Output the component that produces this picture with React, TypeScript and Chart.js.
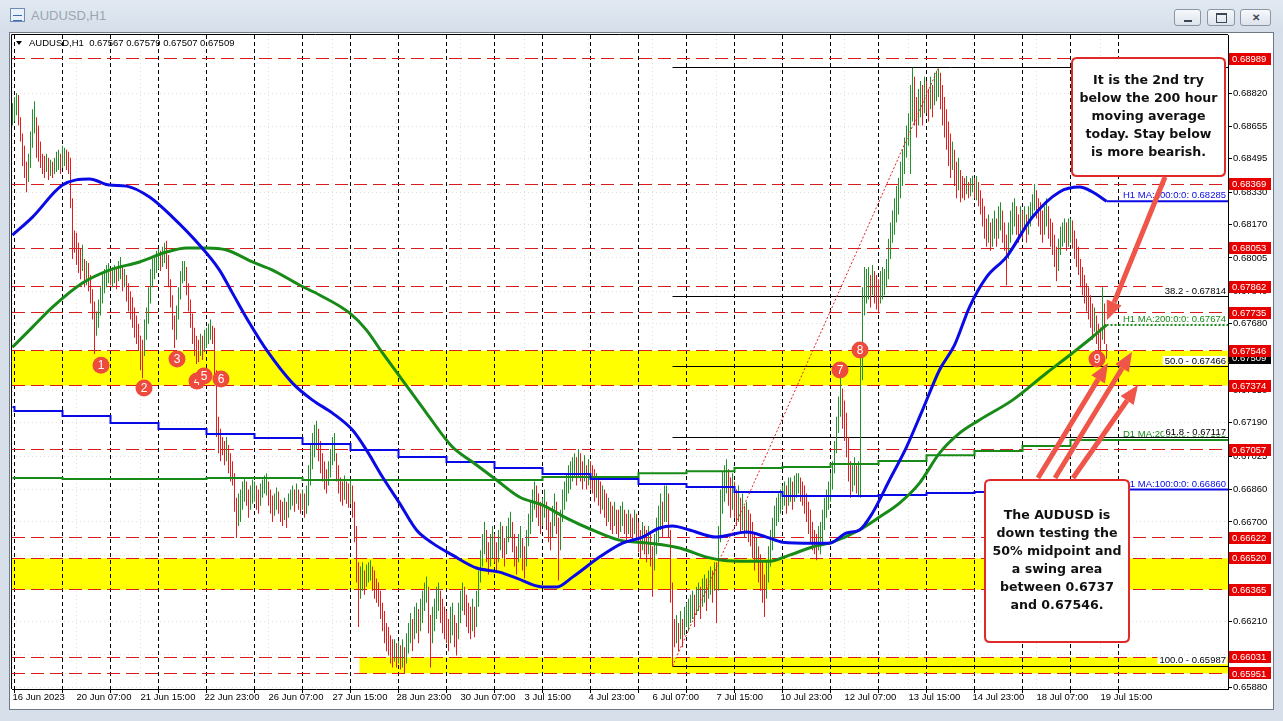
import React, { useEffect, useRef } from "react";
import { Chart, registerables } from "chart.js";

Chart.register(...registerables);

// ------------------------------------------------------------------ data
const windowTitle = "AUDUSD,H1";
const lastBarOHLC = [0.67567, 0.67579, 0.67507, 0.67509];
const currentPrice = 0.67509;

// H1 candles (bar 0 = 16 Jun 23:00), prices in pips (x 0.0001)
const candleLows = [
  6866,
  6868, 6871, 6866, 6858, 6846, 6840, 6833, 6838, 6845, 6855, 6862, 6850, 6848, 6845, 6842, 6840, 6843, 6839, 6841, 6840, 6842, 6843, 6844, 6842,
  6845, 6846, 6844, 6842, 6825, 6800, 6803, 6797, 6793, 6790, 6794, 6786, 6787, 6784, 6778, 6770, 6753, 6762, 6766, 6772, 6778, 6783, 6786, 6788,
  6787, 6786, 6788, 6785, 6789, 6790, 6784, 6786, 6779, 6774, 6770, 6766, 6761, 6758, 6755, 6745, 6741, 6752, 6760, 6768, 6778, 6786, 6790, 6793,
  6795, 6794, 6796, 6798, 6795, 6786, 6776, 6765, 6756, 6760, 6770, 6780, 6788, 6789, 6782, 6774, 6766, 6758, 6752, 6748, 6749, 6752, 6750, 6754,
  6756, 6758, 6760, 6758, 6740, 6712, 6704, 6700, 6703, 6698, 6700, 6694, 6690, 6688, 6675, 6662, 6668, 6670, 6676, 6680, 6678, 6672, 6676, 6679,
  6680, 6676, 6674, 6678, 6682, 6684, 6683, 6678, 6674, 6670, 6673, 6676, 6674, 6670, 6668, 6671, 6667, 6672, 6676, 6678, 6675, 6679, 6676, 6674,
  6676, 6672, 6674, 6678, 6688, 6696, 6702, 6706, 6700, 6694, 6690, 6686, 6684, 6688, 6692, 6698, 6700, 6690, 6684, 6680, 6678, 6681, 6679, 6677,
  6679, 6672, 6660, 6640, 6618, 6632, 6636, 6634, 6638, 6640, 6641, 6636, 6632, 6630, 6628, 6622, 6616, 6610, 6606, 6604, 6600, 6598, 6601, 6598,
  6600, 6597, 6598, 6595, 6600, 6605, 6610, 6606, 6612, 6615, 6610, 6616, 6620, 6626, 6630, 6615, 6598, 6610, 6616, 6622, 6626, 6620, 6615, 6612,
  6610, 6606, 6610, 6614, 6608, 6604, 6612, 6620, 6626, 6624, 6618, 6615, 6612, 6616, 6613, 6618, 6628, 6640, 6648, 6654, 6650, 6644, 6648, 6652,
  6650, 6646, 6650, 6656, 6652, 6648, 6654, 6660, 6662, 6655, 6648, 6644, 6650, 6652, 6646, 6642, 6648, 6658, 6664, 6670, 6676, 6672, 6668, 6664,
  6668, 6672, 6666, 6660, 6656, 6662, 6668, 6664, 6641, 6656, 6670, 6676, 6680, 6684, 6686, 6690, 6692, 6688, 6692, 6690, 6686, 6690, 6686, 6688,
  6686, 6684, 6680, 6682, 6678, 6674, 6676, 6672, 6668, 6670, 6666, 6664, 6668, 6664, 6662, 6665, 6668, 6664, 6661, 6664, 6662, 6660, 6664, 6662,
  6655, 6652, 6656, 6654, 6650, 6654, 6648, 6633, 6646, 6654, 6660, 6666, 6662, 6670, 6670, 6662, 6630, 6598.7, 6608, 6610, 6606, 6612, 6608, 6614,
  6618, 6616, 6620, 6622, 6618, 6624, 6626, 6622, 6628, 6630, 6626, 6632, 6634, 6630, 6636, 6620, 6636, 6660, 6674, 6680, 6684, 6678, 6672, 6676,
  6672, 6668, 6670, 6664, 6666, 6662, 6664, 6660, 6658, 6652, 6646, 6650, 6640, 6636, 6630, 6623, 6632, 6640, 6648, 6656, 6662, 6668, 6670, 6674,
  6676, 6678, 6674, 6678, 6680, 6676, 6680, 6682, 6684, 6680, 6678, 6674, 6670, 6664, 6660, 6656, 6654, 6651, 6656, 6654, 6660, 6666, 6672, 6676,
  6680, 6686, 6694, 6704, 6714, 6722, 6716, 6710, 6702, 6690, 6682, 6685, 6688, 6684, 6683, 6682, 6740, 6772, 6778, 6780, 6776, 6782, 6778, 6775,
  6773, 6778, 6780, 6782, 6786, 6790, 6800, 6808, 6812, 6818, 6822, 6830, 6836, 6842, 6850, 6856, 6842, 6868, 6866, 6860, 6866, 6870, 6866, 6872,
  6872, 6868, 6874, 6870, 6876, 6878, 6880, 6874, 6866, 6860, 6854, 6846, 6840, 6844, 6836, 6830, 6834, 6828, 6830, 6829, 6832, 6830, 6831, 6833,
  6830, 6829, 6826, 6822, 6816, 6810, 6806, 6808, 6804, 6806, 6810, 6806, 6810, 6814, 6808, 6804, 6787, 6800, 6808, 6812, 6816, 6812, 6808, 6812,
  6810, 6814, 6808, 6812, 6816, 6820, 6824, 6820, 6816, 6812, 6808, 6812, 6816, 6810, 6806, 6802, 6796, 6789, 6794, 6802, 6806, 6808, 6804, 6806,
  6808, 6805, 6800, 6796, 6792, 6786, 6782, 6778, 6774, 6770, 6766, 6760, 6764, 6758, 6754, 6752, 6760, 6758, 6750.7,
];
const candleHighs = [
  6877,
  6880, 6882, 6881, 6870, 6862, 6856, 6848, 6852, 6863, 6874, 6878, 6870, 6866, 6858, 6852, 6851, 6852, 6850, 6849, 6848, 6850, 6853, 6854, 6852,
  6856, 6855, 6854, 6853, 6850, 6830, 6814, 6813, 6808, 6805, 6807, 6800, 6799, 6798, 6792, 6785, 6779, 6774, 6780, 6786, 6793, 6795, 6797, 6798,
  6795, 6796, 6797, 6796, 6799, 6801, 6797, 6795, 6792, 6788, 6784, 6781, 6776, 6772, 6768, 6762, 6760, 6770, 6776, 6786, 6795, 6800, 6802, 6804,
  6805, 6804, 6806, 6808, 6809, 6802, 6790, 6782, 6772, 6777, 6786, 6794, 6799, 6799, 6796, 6788, 6780, 6773, 6766, 6762, 6760, 6763, 6762, 6765,
  6766, 6768, 6770, 6767, 6766, 6745, 6722, 6716, 6712, 6710, 6712, 6708, 6704, 6700, 6694, 6682, 6684, 6686, 6690, 6692, 6690, 6686, 6688, 6691,
  6690, 6688, 6686, 6689, 6691, 6693, 6694, 6690, 6686, 6683, 6684, 6687, 6685, 6681, 6680, 6682, 6680, 6684, 6686, 6688, 6686, 6689, 6686, 6684,
  6686, 6684, 6688, 6698, 6708, 6714, 6718, 6720, 6716, 6710, 6704, 6700, 6696, 6700, 6706, 6712, 6714, 6704, 6698, 6692, 6690, 6693, 6690, 6689,
  6691, 6688, 6680, 6668, 6650, 6648, 6650, 6646, 6649, 6650, 6651, 6648, 6646, 6642, 6640, 6636, 6630, 6626, 6620, 6618, 6614, 6612, 6612, 6610,
  6611, 6609, 6612, 6608, 6615, 6620, 6625, 6622, 6628, 6630, 6627, 6632, 6636, 6640, 6643, 6638, 6624, 6628, 6632, 6638, 6640, 6636, 6632, 6628,
  6626, 6622, 6628, 6630, 6624, 6620, 6630, 6636, 6640, 6638, 6634, 6630, 6628, 6632, 6628, 6636, 6646, 6656, 6664, 6670, 6666, 6660, 6664, 6668,
  6664, 6660, 6666, 6670, 6668, 6662, 6668, 6672, 6675, 6670, 6664, 6658, 6664, 6668, 6662, 6658, 6666, 6674, 6680, 6686, 6690, 6688, 6684, 6680,
  6682, 6686, 6680, 6676, 6670, 6678, 6684, 6680, 6672, 6676, 6686, 6690, 6694, 6698, 6700, 6702, 6704, 6702, 6706, 6704, 6700, 6703, 6698, 6701,
  6700, 6698, 6696, 6694, 6692, 6690, 6688, 6686, 6684, 6682, 6680, 6678, 6680, 6676, 6676, 6678, 6680, 6676, 6674, 6676, 6674, 6672, 6676, 6674,
  6670, 6666, 6670, 6668, 6666, 6668, 6664, 6658, 6664, 6672, 6678, 6684, 6680, 6688, 6688, 6684, 6666, 6640, 6622, 6624, 6620, 6626, 6622, 6628,
  6630, 6632, 6634, 6636, 6634, 6638, 6640, 6638, 6642, 6644, 6642, 6646, 6648, 6646, 6650, 6650, 6668, 6686, 6695, 6698, 6701, 6696, 6692, 6694,
  6690, 6686, 6688, 6682, 6684, 6678, 6680, 6676, 6674, 6670, 6664, 6662, 6658, 6654, 6650, 6644, 6650, 6658, 6666, 6672, 6678, 6682, 6684, 6686,
  6688, 6690, 6688, 6692, 6692, 6690, 6693, 6694, 6694, 6692, 6690, 6688, 6684, 6680, 6676, 6670, 6666, 6664, 6668, 6670, 6676, 6682, 6686, 6690,
  6694, 6700, 6710, 6722, 6732, 6742, 6736, 6730, 6724, 6712, 6700, 6698, 6702, 6698, 6700, 6755, 6786, 6796, 6795, 6796, 6792, 6797, 6794, 6792,
  6790, 6794, 6796, 6795, 6800, 6810, 6818, 6824, 6830, 6836, 6840, 6848, 6854, 6860, 6866, 6872, 6886, 6894.5, 6890, 6880, 6884, 6888, 6886, 6890,
  6888, 6884, 6890, 6886, 6892, 6893, 6894, 6892, 6886, 6880, 6874, 6868, 6862, 6858, 6854, 6848, 6850, 6844, 6841, 6840, 6841, 6838, 6840, 6841,
  6840, 6841, 6838, 6834, 6830, 6826, 6820, 6822, 6818, 6820, 6824, 6820, 6826, 6828, 6824, 6818, 6812, 6818, 6824, 6828, 6830, 6826, 6822, 6826,
  6824, 6826, 6822, 6826, 6828, 6832, 6837, 6834, 6830, 6828, 6824, 6826, 6830, 6826, 6820, 6818, 6812, 6806, 6810, 6816, 6818, 6820, 6818, 6820,
  6820, 6819, 6814, 6810, 6806, 6800, 6796, 6792, 6788, 6786, 6782, 6778, 6776, 6772, 6768, 6766, 6786, 6778, 6757.9,
];

// first bar of each trading day (period separators)
const sessionStartBars = [1, 25, 49, 73, 97, 121, 145, 169, 193, 217, 241, 265, 289, 313, 337, 361, 385, 409, 433, 457, 481, 505, 529, 553];

const timeTickBars = [0, 32, 64, 96, 128, 160, 192, 224, 256, 288, 320, 352, 384, 416, 448, 480, 512, 544];
const timeTickLabels = [
  "16 Jun 2023", "20 Jun 07:00", "21 Jun 15:00", "22 Jun 23:00", "26 Jun 07:00", "27 Jun 15:00",
  "28 Jun 23:00", "30 Jun 07:00", "3 Jul 15:00", "4 Jul 23:00", "6 Jul 07:00", "7 Jul 15:00",
  "10 Jul 23:00", "12 Jul 07:00", "13 Jul 15:00", "14 Jul 23:00", "18 Jul 07:00", "19 Jul 15:00",
];

const priceTicks = [0.6882, 0.68655, 0.68495, 0.6833, 0.6817, 0.68005, 0.6784, 0.6768, 0.6735, 0.6719, 0.67025, 0.6686, 0.667, 0.66535, 0.6637, 0.6621, 0.66045, 0.6588];

// H1 moving averages, [bar, pips]
const h1Ma100 = [
  [0, 6811.8], [10, 6820.7], [25, 6836.5], [38.5, 6839.5], [48.5, 6836.5], [57, 6836.0], [68.5, 6830.6], [80, 6820.7],
  [93.5, 6806.9], [103.5, 6794.5], [110, 6783.1], [118.5, 6768.3], [127, 6755.0], [140, 6738.6], [150, 6730.2], [160, 6723.8],
  [170, 6715.4], [177, 6705.5], [185, 6692.2], [193.5, 6679.3], [202, 6666.0], [210, 6659.5], [220, 6653.6], [232, 6647.2],
  [243.5, 6645.2], [252, 6642.2], [265, 6637.8], [272, 6637.8], [280, 6642.7], [293.5, 6652.6], [305, 6659.5], [315, 6662.5],
  [323.5, 6667.0], [330, 6668.0], [338.5, 6666.0], [352, 6662.5], [367, 6665.0], [377, 6662.5], [385, 6660.0], [400, 6659.5],
  [408.5, 6659.5], [417, 6664.5], [423.5, 6666.0], [430, 6674.4], [438.5, 6690.7], [447, 6707.0], [455, 6725.3], [463.5, 6745.1],
  [471, 6757.4], [478.5, 6776.2], [487, 6791.0], [497, 6801.0], [510, 6820.7], [523.5, 6833.1], [533.5, 6835.5], [540, 6833.1],
  [547, 6828.5],
];
const h1Ma200 = [
  [0, 6756.4], [10, 6766.3], [20, 6776.2], [35, 6788.1], [48.5, 6794.5], [63.5, 6798.5], [77, 6803.4], [87, 6805.4],
  [97, 6805.4], [107, 6804.4], [120, 6798.5], [130, 6794.5], [143.5, 6787.1], [153.5, 6782.2], [168.5, 6773.3], [177, 6764.8],
  [185, 6753.5], [193.5, 6742.1], [207, 6723.8], [220, 6707.0], [230, 6699.6], [242, 6690.7], [253.5, 6682.3], [265, 6678.3],
  [277, 6671.9], [290, 6666.0], [303.5, 6661.0], [318.5, 6659.5], [333.5, 6657.1], [347, 6652.6], [355, 6651.1], [367, 6650.6],
  [378.5, 6650.6], [388.5, 6653.6], [400, 6657.6], [410, 6660.0], [423.5, 6666.0], [433.5, 6672.4], [443.5, 6679.3], [453.5, 6689.2],
  [463.5, 6704.0], [473.5, 6713.9], [483.5, 6720.4], [500, 6730.2], [517, 6743.6], [530, 6753.5], [540, 6761.4], [547, 6767.4],
];
const h1Ma100Last = 0.68285;
const h1Ma200Last = 0.67674;

// D1 moving averages: value for bar 0 then one per trading day (pips)
const d1Ma100Daily = [6726.8, 6724.8, 6722.3, 6718.9, 6715.9, 6713.4, 6711.5, 6708.5, 6705.5, 6702.1, 6699.6, 6696.6, 6693.7, 6691.2, 6688.7, 6687.2, 6684.8, 6682.8, 6682.8, 6683.3, 6684.3, 6684.8, 6685.7, 6686.0];
const d1Ma200Daily = [6691.7, 6691.7, 6691.2, 6691.2, 6691.2, 6691.7, 6691.7, 6690.7, 6690.7, 6690.7, 6690.7, 6690.7, 6692.2, 6692.2, 6694.1, 6695.1, 6696.6, 6697.1, 6698.6, 6700.1, 6703.0, 6705.0, 6707.5, 6710.5];
const d1Ma100Last = 0.6686;
const d1Ma200Last = 0.67105;

// horizontal levels (red dashed) and yellow zones
const levelLines = [0.68989, 0.68369, 0.68053, 0.67862, 0.67735, 0.67546, 0.67374, 0.67057, 0.66622, 0.6652, 0.66365, 0.66031, 0.65951];
const zoneLows = [0.67374, 0.66365, 0.65951];
const zoneHighs = [0.67546, 0.6652, 0.66031];
const zoneStartBars = [-0.25, -0.25, 173.5];

// Fibonacci retracement
const fibRatios = ["0.0", "38.2", "50.0", "61.8", "100.0"];
const fibPrices = [0.68945, 0.67814, 0.67466, 0.67117, 0.65987];
const fibStartBar = 330;
const fibTrendBars = [330, 463];
const fibTrendPrices = [0.65987, 0.68945];

// numbered markers
const markerTexts = ["1", "2", "3", "4", "5", "6", "7", "8", "9"];
const markerBars = [44.25, 65.75, 82.25, 92.25, 95.75, 104.25, 413.75, 423.75, 542.25];
const markerPips = [6747.5, 6736.2, 6750.5, 6739.6, 6742.1, 6740.6, 6745.1, 6755.0, 6750.5];

// text notes (bar range, price range) and arrows [fromBar, fromPips, toBar, toPips]
const noteLines = [
  ["It is the 2nd try", "below the 200 hour", "moving average", "today. Stay below", "is more bearish."],
  ["The AUDUSD is", "down testing the", "50% midpoint and", "a swing area", "between 0.6737", "and 0.67546."],
];
const noteBars = [[529.75, 606.25], [486.25, 558.25]];
const notePrices = [[0.68993, 0.6841], [0.66907, 0.66106]];
const arrowSegments = [
  [576.25, 6840.5, 547.25, 6769.8],
  [512.75, 6691.7, 547.75, 6748.5],
  [521.25, 6691.7, 559.75, 6754.0],
  [530.25, 6691.7, 562.75, 6737.7],
];

// ------------------------------------------------------------------ styles
const GREEN = "#23902a";
const RED = "#e21d1d";
const LEVEL_RED = "#d81c1c";
const LABEL_RED = "#e60000";
const MA_BLUE = "#0a0ae6";
const MA_GREEN = "#178a17";
const ARROW = "#ef5548";
const GRID = "#e6dede";
const FONT = '"Liberation Sans", Arial, sans-serif';

const pip = (v: number) => v / 10000;

function drawArrow(ctx: CanvasRenderingContext2D, x0: number, y0: number, x1: number, y1: number) {
  const ang = Math.atan2(y1 - y0, x1 - x0);
  const hl = 19, hw = 8;
  const bx = x1 - hl * Math.cos(ang), by = y1 - hl * Math.sin(ang);
  ctx.beginPath();
  ctx.moveTo(x0, y0);
  ctx.lineTo(bx, by);
  ctx.stroke();
  ctx.beginPath();
  ctx.moveTo(x1, y1);
  ctx.lineTo(bx + hw * Math.sin(ang), by - hw * Math.cos(ang));
  ctx.lineTo(bx - hw * Math.sin(ang), by + hw * Math.cos(ang));
  ctx.closePath();
  ctx.fill();
}

function roundRect(ctx: CanvasRenderingContext2D, x: number, y: number, w: number, h: number, r: number) {
  ctx.beginPath();
  ctx.moveTo(x + r, y);
  ctx.lineTo(x + w - r, y);
  ctx.quadraticCurveTo(x + w, y, x + w, y + r);
  ctx.lineTo(x + w, y + h - r);
  ctx.quadraticCurveTo(x + w, y + h, x + w - r, y + h);
  ctx.lineTo(x + r, y + h);
  ctx.quadraticCurveTo(x, y + h, x, y + h - r);
  ctx.lineTo(x, y + r);
  ctx.quadraticCurveTo(x, y, x + r, y);
  ctx.closePath();
}

const overlayPlugin = {
  id: "mt4Overlay",
  beforeDatasetsDraw(chart: any) {
    const { ctx, chartArea: a } = chart;
    const xs = chart.scales.x, ys = chart.scales.y;
    ctx.save();
    ctx.beginPath();
    ctx.rect(a.left, a.top, a.right - a.left, a.bottom - a.top);
    ctx.clip();
    // yellow zones
    ctx.fillStyle = "#ffff00";
    zoneLows.forEach((lo, i) => {
      const x0 = Math.max(a.left, xs.getPixelForValue(zoneStartBars[i]));
      const yt = ys.getPixelForValue(zoneHighs[i]);
      const yb = ys.getPixelForValue(lo);
      ctx.fillRect(x0, yt, a.right - x0, yb - yt);
    });
    // period separators
    ctx.lineWidth = 1;
    ctx.strokeStyle = "#000";
    ctx.setLineDash([4, 3]);
    ctx.beginPath();
    sessionStartBars.forEach((b) => {
      const px = Math.floor(xs.getPixelForValue(b)) + 0.5;
      ctx.moveTo(px, a.top);
      ctx.lineTo(px, a.bottom);
    });
    ctx.stroke();
    // red levels
    ctx.strokeStyle = LEVEL_RED;
    ctx.setLineDash([13, 6]);
    ctx.beginPath();
    levelLines.forEach((v) => {
      const py = Math.floor(ys.getPixelForValue(v)) + 0.5;
      ctx.moveTo(a.left, py);
      ctx.lineTo(a.right, py);
    });
    ctx.stroke();
    // fib levels
    ctx.setLineDash([]);
    ctx.strokeStyle = "#000";
    ctx.beginPath();
    const fx = xs.getPixelForValue(fibStartBar);
    fibPrices.forEach((v) => {
      const py = Math.floor(ys.getPixelForValue(v)) + 0.5;
      ctx.moveTo(fx, py);
      ctx.lineTo(a.right, py);
    });
    ctx.stroke();
    ctx.restore();
  },
  afterDatasetsDraw(chart: any) {
    const { ctx, chartArea: a } = chart;
    const xs = chart.scales.x, ys = chart.scales.y;
    ctx.save();
    // indicator labels
    ctx.font = `9.5px ${FONT}`;
    ctx.textAlign = "right";
    ctx.textBaseline = "alphabetic";
    const maTexts = [
      `H1 MA:100:0:0: ${h1Ma100Last.toFixed(5)}`,
      `H1 MA:200:0:0: ${h1Ma200Last.toFixed(5)}`,
      `D1 MA:200:0:0: ${d1Ma200Last.toFixed(5)}`,
      `D1 MA:100:0:0: ${d1Ma100Last.toFixed(5)}`,
    ];
    const maVals = [h1Ma100Last, h1Ma200Last, d1Ma200Last, d1Ma100Last];
    const maCols = [MA_BLUE, MA_GREEN, MA_GREEN, MA_BLUE];
    maTexts.forEach((t, i) => {
      ctx.fillStyle = maCols[i];
      ctx.fillText(t, a.right - 2, ys.getPixelForValue(maVals[i]) - 3);
    });
    // fib labels
    fibRatios.forEach((r, i) => {
      const t = `${r} - ${fibPrices[i].toFixed(5)}`;
      const py = ys.getPixelForValue(fibPrices[i]);
      const w = ctx.measureText(t).width;
      ctx.fillStyle = "#fff";
      ctx.fillRect(a.right - 4 - w, py - 11, w + 3, 9);
      ctx.fillStyle = "#000";
      ctx.fillText(t, a.right - 2, py - 3);
    });
    // markers
    markerTexts.forEach((t, i) => {
      const px = xs.getPixelForValue(markerBars[i]);
      const py = ys.getPixelForValue(pip(markerPips[i]));
      ctx.beginPath();
      ctx.arc(px, py, 8.5, 0, Math.PI * 2);
      ctx.fillStyle = "#ee4a3d";
      ctx.fill();
      ctx.fillStyle = "#fff";
      ctx.font = `12px ${FONT}`;
      ctx.textAlign = "center";
      ctx.textBaseline = "middle";
      ctx.fillText(t, px, py + 0.5);
    });
    // notes
    noteLines.forEach((lines, i) => {
      const l = xs.getPixelForValue(noteBars[i][0]);
      const r = xs.getPixelForValue(noteBars[i][1]);
      const t = ys.getPixelForValue(notePrices[i][0]);
      const b = ys.getPixelForValue(notePrices[i][1]);
      roundRect(ctx, l, t, r - l, b - t, 5);
      ctx.fillStyle = "#fff";
      ctx.fill();
      ctx.lineWidth = 2;
      ctx.strokeStyle = "#e02a2a";
      ctx.stroke();
      ctx.fillStyle = "#111";
      ctx.font = `bold 12.6px "DejaVu Sans", Verdana, sans-serif`;
      ctx.textAlign = "center";
      ctx.textBaseline = "middle";
      const cy = (t + b) / 2, lh = 18;
      lines.forEach((s, k) => {
        ctx.fillText(s, (l + r) / 2, cy + (k - (lines.length - 1) / 2) * lh);
      });
    });
    // arrows
    ctx.strokeStyle = ARROW;
    ctx.fillStyle = ARROW;
    ctx.lineWidth = 5;
    ctx.lineCap = "butt";
    arrowSegments.forEach(([b0, p0, b1, p1]) => {
      drawArrow(ctx, xs.getPixelForValue(b0), ys.getPixelForValue(pip(p0)), xs.getPixelForValue(b1), ys.getPixelForValue(pip(p1)));
    });
    // header
    ctx.fillStyle = "#000";
    ctx.beginPath();
    ctx.moveTo(a.left + 4, a.top + 6);
    ctx.lineTo(a.left + 10, a.top + 6);
    ctx.lineTo(a.left + 7, a.top + 10);
    ctx.closePath();
    ctx.fill();
    ctx.font = `9.5px ${FONT}`;
    ctx.textAlign = "left";
    ctx.textBaseline = "middle";
    ctx.fillText(`${windowTitle}  ${lastBarOHLC.map((v) => v.toFixed(5)).join(" ")}`, a.left + 17, a.top + 8.5);
    ctx.restore();
  },
  afterDraw(chart: any) {
    const { ctx, chartArea: a } = chart;
    const xs = chart.scales.x, ys = chart.scales.y;
    ctx.save();
    ctx.strokeStyle = "#000";
    ctx.lineWidth = 1;
    ctx.beginPath();
    ctx.moveTo(a.left - 0.5, a.bottom);
    ctx.lineTo(a.left - 0.5, a.top - 0.5);
    ctx.lineTo(a.right, a.top - 0.5);
    // separator ticks under the time axis
    sessionStartBars.forEach((b) => {
      const px = Math.floor(xs.getPixelForValue(b)) + 0.5;
      ctx.moveTo(px, a.bottom);
      ctx.lineTo(px, a.bottom + 4);
    });
    ctx.stroke();
    // price labels
    ctx.font = `9.5px ${FONT}`;
    ctx.textAlign = "left";
    ctx.textBaseline = "middle";
    const drawTag = (v: number, bg: string) => {
      const py = ys.getPixelForValue(v);
      ctx.fillStyle = bg;
      ctx.fillRect(a.right + 1, Math.round(py) - 6, 42, 12);
      ctx.fillStyle = "#fff";
      ctx.fillText(v.toFixed(5), a.right + 4, py + 0.5);
    };
    drawTag(currentPrice, "#000");
    levelLines.forEach((v) => drawTag(v, LABEL_RED));
    ctx.restore();
  },
};

export default function App() {
  const ref = useRef<HTMLCanvasElement>(null);

  useEffect(() => {
    const canvas = ref.current;
    if (!canvas) return;

    const candleData = candleLows.map((lo, i) => ({ x: i, y: [pip(lo), pip(candleHighs[i])] }));
    const candleColors = candleLows.map((lo, i) => {
      const mid = lo + candleHighs[i];
      const prev = i > 0 ? candleLows[i - 1] + candleHighs[i - 1] : mid;
      return mid >= prev ? GREEN : RED;
    });

    const stepData = (vals: number[]) => {
      const pts = [{ x: 0, y: pip(vals[0]) }];
      for (let k = 1; k < vals.length; k++) pts.push({ x: sessionStartBars[k - 1], y: pip(vals[k]) });
      pts.push({ x: 607.75, y: pip(vals[vals.length - 1]) });
      return pts;
    };

    const lineBase = { type: "line", pointRadius: 0, fill: false, spanGaps: true };

    const chart = new Chart(canvas, {
      type: "bar",
      data: {
        datasets: [
          {
            ...lineBase,
            label: "fib trend",
            data: fibTrendBars.map((b, i) => ({ x: b, y: fibTrendPrices[i] })),
            borderColor: "#e02020",
            borderWidth: 1,
            borderDash: [2, 2],
            order: 1,
          },
          {
            ...lineBase,
            label: "H1 MA 100",
            data: h1Ma100.map(([b, v]) => ({ x: b, y: pip(v) })),
            borderColor: MA_BLUE,
            borderWidth: 3,
            cubicInterpolationMode: "monotone",
            order: 2,
          },
          {
            ...lineBase,
            label: "H1 MA 100 ext",
            data: [{ x: 547, y: h1Ma100Last }, { x: 607.75, y: h1Ma100Last }],
            borderColor: MA_BLUE,
            borderWidth: 2,
            order: 2,
          },
          {
            ...lineBase,
            label: "H1 MA 200",
            data: h1Ma200.map(([b, v]) => ({ x: b, y: pip(v) })),
            borderColor: MA_GREEN,
            borderWidth: 3,
            cubicInterpolationMode: "monotone",
            order: 3,
          },
          {
            ...lineBase,
            label: "H1 MA 200 ext",
            data: [{ x: 547, y: h1Ma200Last }, { x: 607.75, y: h1Ma200Last }],
            borderColor: MA_GREEN,
            borderWidth: 2,
            borderDash: [2, 2],
            order: 3,
          },
          {
            ...lineBase,
            label: "D1 MA 100",
            data: stepData(d1Ma100Daily),
            borderColor: MA_BLUE,
            borderWidth: 2,
            stepped: true,
            order: 4,
          },
          {
            ...lineBase,
            label: "D1 MA 200",
            data: stepData(d1Ma200Daily),
            borderColor: MA_GREEN,
            borderWidth: 2,
            stepped: true,
            order: 4,
          },
          {
            type: "bar",
            label: "AUDUSD",
            data: candleData,
            backgroundColor: candleColors,
            borderWidth: 0,
            barThickness: 1,
            inflateAmount: 0,
            borderSkipped: false,
            order: 6,
          },
        ],
      } as any,
      options: {
        animation: false,
        responsive: false,
        devicePixelRatio: 1,
        events: [],
        layout: { padding: { left: 2, top: 2, right: 0, bottom: 0 } },
        plugins: { legend: { display: false }, tooltip: { enabled: false } },
        scales: {
          x: {
            type: "linear",
            min: -0.25,
            max: 607.75,
            offset: false,
            position: "bottom",
            afterBuildTicks: (s: any) => {
              s.ticks = timeTickBars.map((v) => ({ value: v }));
            },
            afterFit: (s: any) => {
              s.height = 20;
              s.paddingLeft = 0;
              s.paddingRight = 0;
            },
            ticks: {
              autoSkip: false,
              maxRotation: 0,
              minRotation: 0,
              align: "start",
              padding: 3,
              color: "#000",
              font: { family: FONT, size: 9.5 },
              callback: (_v: any, i: number) => timeTickLabels[i] ?? "",
            },
            grid: { offset: false, drawTicks: false, color: GRID, lineWidth: 1 },
            border: { display: true, color: "#000", width: 1, dash: [1, 3], z: 1 },
          },
          y: {
            type: "linear",
            position: "right",
            min: 0.65874,
            max: 0.69107,
            afterBuildTicks: (s: any) => {
              s.ticks = priceTicks.map((v) => ({ value: v }));
            },
            afterFit: (s: any) => {
              s.width = 45;
              s.paddingTop = 0;
              s.paddingBottom = 0;
            },
            ticks: {
              autoSkip: false,
              padding: 1,
              color: "#000",
              font: { family: FONT, size: 9.5 },
              callback: (v: any) => Number(v).toFixed(5),
            },
            grid: { color: GRID, lineWidth: 1, drawTicks: true, tickLength: 4, tickColor: "#000", tickWidth: 1 },
            border: { display: true, color: "#000", width: 1, dash: [1, 3], z: 1 },
          },
        },
      } as any,
      plugins: [overlayPlugin],
    });

    return () => chart.destroy();
  }, []);

  const btn = (left: number, width: number, glyph: React.ReactNode) => (
    <div
      style={{
        position: "absolute",
        left,
        top: 9,
        width,
        height: 17,
        boxSizing: "border-box",
        border: "1px solid #8a96a5",
        borderRadius: 3,
        background: "linear-gradient(#f6f8fb, #dde4ec)",
        display: "flex",
        alignItems: "center",
        justifyContent: "center",
        color: "#3c4654",
        fontSize: 10,
        fontFamily: FONT,
        fontWeight: "bold",
      }}
    >
      {glyph}
    </div>
  );

  return (
    <div
      style={{
        position: "fixed",
        left: 0,
        top: 0,
        width: 1283,
        height: 721,
        background: "#d7e0ea",
        overflow: "hidden",
        fontFamily: FONT,
      }}
    >
      <div style={{ position: "absolute", left: 0, top: 0, width: 1283, height: 32, background: "linear-gradient(#e2e9f2, #d5dee9)" }} />
      <div
        style={{
          position: "absolute",
          left: 10,
          top: 8,
          width: 15,
          height: 14,
          boxSizing: "border-box",
          border: "1px solid #6f8db3",
          background: "#e9f1fa",
        }}
      >
        <div style={{ position: "absolute", left: 2, top: 6, width: 9, height: 4, borderTop: "1px solid #3b6fb0", borderBottom: "1px solid #3b6fb0" }} />
      </div>
      <div style={{ position: "absolute", left: 31, top: 8, fontSize: 13, color: "#9ba5b1" }}>{windowTitle}</div>
      {btn(1174, 27, <div style={{ width: 8, height: 2, background: "#3c4654", marginTop: 6 }} />)}
      {btn(1207, 28, <div style={{ width: 9, height: 7, border: "1px solid #3c4654", borderTopWidth: 2 }} />)}
      {btn(1240, 31, "✕")}
      <div
        style={{
          position: "absolute",
          left: 9,
          top: 32,
          width: 1265,
          height: 678,
          boxSizing: "border-box",
          border: "1px solid #6e7985",
          background: "#fff",
        }}
      />
      <canvas
        ref={ref}
        width={1263}
        height={676}
        style={{ position: "absolute", left: 10, top: 33, width: 1263, height: 676, display: "block", background: "#fff" }}
      />
    </div>
  );
}
